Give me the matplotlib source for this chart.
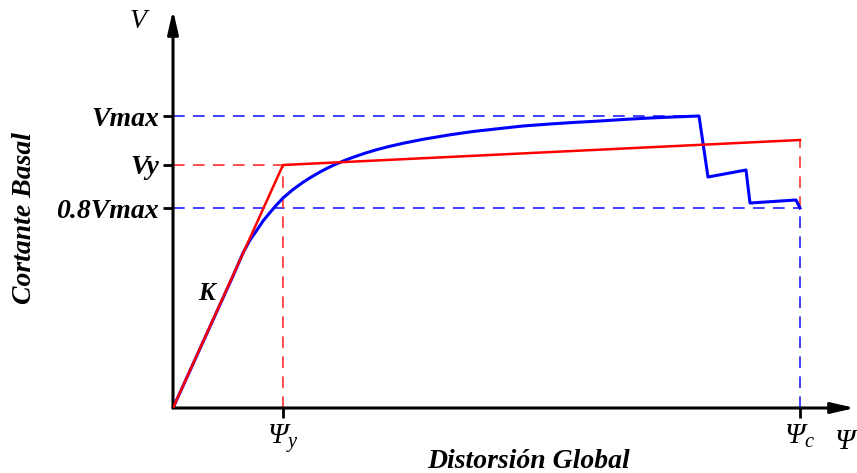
import matplotlib
matplotlib.use('Agg')
import matplotlib.pyplot as plt

# data (arbitrary units)
psi_y = 1.10
psi_c = 6.27
v_y = 2.43
v_max = 2.92
v_08 = 2.00

# bilinear idealisation
red_x = [0.0, psi_y, psi_c]
red_v = [0.0, v_y, 2.68]

# capacity curve
blue_x = [0.0, 0.60, 0.70, 0.77, 0.84, 0.90, 0.97, 1.03, 1.10, 1.20, 1.30, 1.38,
          1.47, 1.53, 1.60, 1.70, 1.80, 1.92, 2.04, 2.16, 2.30, 2.50, 2.77,
          3.00, 3.27, 3.50, 3.77, 4.00, 4.27, 4.50, 4.77, 5.00, 5.26,
          5.35, 5.73, 5.77, 6.23, 6.27]
blue_v = [0.0, 1.32, 1.55, 1.68, 1.78, 1.87, 1.955, 2.025, 2.10, 2.185, 2.257, 2.308,
          2.36, 2.392, 2.426, 2.469, 2.507, 2.548, 2.584, 2.615, 2.647, 2.687, 2.732,
          2.765, 2.795, 2.82, 2.84, 2.855, 2.87, 2.885, 2.90, 2.91, 2.92,
          2.31, 2.38, 2.05, 2.08, 2.00]

ytick_vals = [v_08, v_y, v_max]
ytick_labels = ['0.8Vmax', 'Vy', 'Vmax']
xtick_vals = [psi_y, psi_c]
xtick_labels = [r'$Ψ_\mathit{y}$', r'$Ψ_\mathit{c}$']

plt.rcParams['mathtext.fontset'] = 'custom'
plt.rcParams['mathtext.it'] = 'Liberation Serif:italic'
plt.rcParams['mathtext.rm'] = 'Liberation Serif:italic'

def main():
    fig = plt.figure(figsize=(8.57, 4.73), dpi=100)
    ax = fig.add_axes([173 / 857, 65 / 473, (855 - 173) / 857, (408 - 10) / 473])
    ax.set_xlim(0, 6.82)
    ax.set_ylim(0, 3.98)

    dash = dict(lw=1.2, dashes=(7, 5))
    # guide lines
    ax.plot([0, 5.26], [v_max, v_max], color='#2020ff', **dash)
    ax.plot([0, psi_y], [v_y, v_y], color='#ff3030', **dash)
    ax.plot([0, psi_c], [v_08, v_08], color='#2020ff', **dash)
    ax.plot([psi_y, psi_y], [0, v_y], color='#ff3030', **dash)
    ax.plot([psi_c, psi_c], [v_08, red_v[-1]], color='#ff3030', **dash)
    ax.plot([psi_c, psi_c], [0, v_08], color='#2020ff', **dash)

    # curves
    ax.plot(blue_x, blue_v, color='#0000ff', lw=2.2, zorder=3)
    ax.plot(red_x, red_v, color='#ff0000', lw=1.8, zorder=4)

    # axes as arrows
    for s in ['top', 'right', 'left', 'bottom']:
        ax.spines[s].set_visible(False)
    arr = dict(arrowstyle='-|>,head_length=1.4,head_width=0.32', lw=2.2,
               color='black', shrinkA=0, shrinkB=0)
    ax.annotate('', xy=(1, 0), xytext=(0, 0), xycoords='axes fraction',
                arrowprops=arr, annotation_clip=False)
    ax.annotate('', xy=(0, 1), xytext=(0, 0), xycoords='axes fraction',
                arrowprops=arr, annotation_clip=False)

    ax.set_yticks(ytick_vals)
    ax.set_yticklabels(ytick_labels, fontfamily='Liberation Serif',
                       fontstyle='italic', fontweight='bold', fontsize=20)
    ax.set_xticks(xtick_vals)
    ax.set_xticklabels(xtick_labels, fontsize=21)
    ax.tick_params(axis='both', length=7, width=2, pad=3)

    serif = dict(fontfamily='Liberation Serif', fontstyle='italic')
    ax.text(0.34, 1.15, 'K', fontsize=18, fontweight='bold', ha='center', va='center', **serif)
    fig.text(138 / 857, 1 - 22 / 473, 'V', fontsize=20, ha='center', va='center', **serif)
    fig.text(845 / 857, 1 - 442 / 473, 'Ψ', fontsize=21, ha='center', va='center', **serif)
    fig.text(529 / 857, 1 - 461 / 473, 'Distorsión Global', fontsize=20,
             fontweight='bold', ha='center', va='center', **serif)
    fig.text(25 / 857, 1 - 218 / 473, 'Cortante Basal', fontsize=20, rotation=90,
             fontweight='bold', ha='center', va='center', **serif)

    fig.savefig('out.png', dpi=100)

if __name__ == "__main__":
    main()
